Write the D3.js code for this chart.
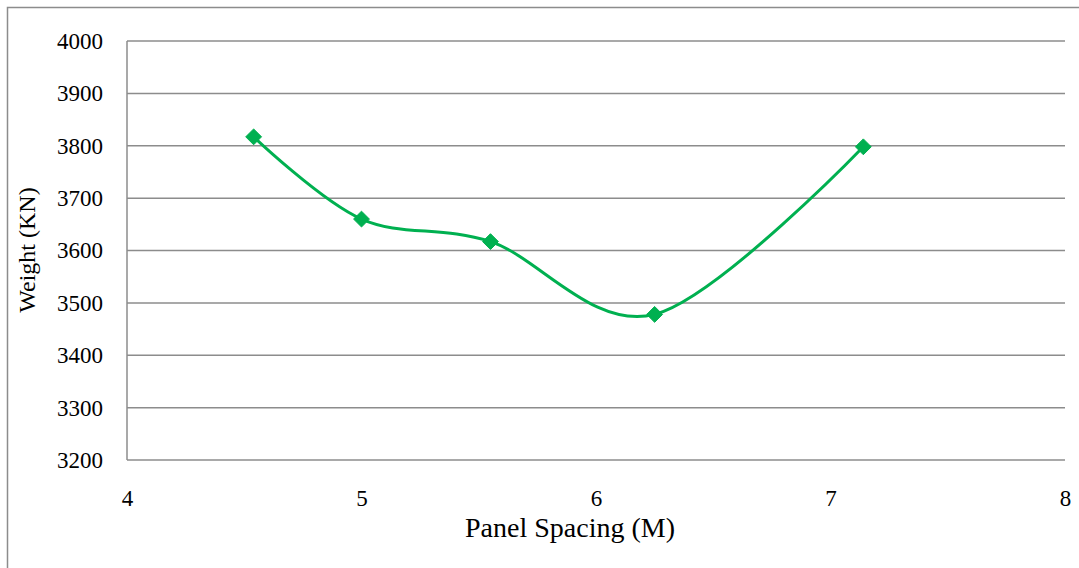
<!DOCTYPE html>
<html>
<head>
<meta charset="utf-8">
<script src="https://cdn.jsdelivr.net/npm/d3@7"></script>
<style>
  html, body { margin: 0; padding: 0; background: #fff; }
  svg { display: block; }
</style>
</head>
<body>
<script>
// Panel spacing vs. structure weight
const spacing = [4.54, 5.0, 5.55, 6.25, 7.14];
const weight  = [3817, 3660, 3617, 3478, 3798];
const xTicks  = [4, 5, 6, 7, 8];
const yTicks  = [3200, 3300, 3400, 3500, 3600, 3700, 3800, 3900, 4000];

const W = 1079, H = 568;
const margin = { left: 127, right: 14, top: 41, bottom: 108 };
const serif = "'Liberation Serif', 'Times New Roman', serif";

const svg = d3.select("body").append("svg")
  .attr("width", W).attr("height", H);

// outer chart frame
svg.append("rect")
  .attr("x", 7.5).attr("y", 7.5)
  .attr("width", W + 20).attr("height", H + 20)
  .attr("fill", "none").attr("stroke", "#8c8c8c").attr("stroke-width", 1.5);

const x = d3.scaleLinear().domain([4, 8]).range([margin.left, W - margin.right]);
const y = d3.scaleLinear().domain([3200, 4000]).range([H - margin.bottom, margin.top]);

// horizontal gridlines
svg.append("g")
  .selectAll("line").data(yTicks).join("line")
  .attr("x1", x(4)).attr("x2", x(8))
  .attr("y1", d => y(d)).attr("y2", d => y(d))
  .attr("stroke", "#8c8c8c").attr("stroke-width", 1.5);

// left axis line
svg.append("line")
  .attr("x1", x(4)).attr("x2", x(4))
  .attr("y1", y(4000)).attr("y2", y(3200))
  .attr("stroke", "#8c8c8c").attr("stroke-width", 1.5);

// y tick labels
const yAxis = d3.axisLeft(y).tickValues(yTicks).tickFormat(d3.format("d"))
  .tickSize(0).tickPadding(24);
const gy = svg.append("g").attr("transform", `translate(${x(4)},0)`).call(yAxis);
gy.select(".domain").remove();
gy.attr("font-family", serif).attr("font-size", 23);
gy.selectAll("text").attr("fill", "#000").style("font-family", serif);

// x tick labels
const xAxis = d3.axisBottom(x).tickValues(xTicks).tickFormat(d3.format("d"))
  .tickSize(0).tickPadding(0);
const gx = svg.append("g").attr("transform", `translate(0,${y(3200)})`).call(xAxis);
gx.select(".domain").remove();
gx.attr("font-family", serif).attr("font-size", 23);
gx.selectAll("text").attr("dy", null).attr("y", 46).attr("fill", "#000")
  .style("font-family", serif);

// axis titles
svg.append("text")
  .attr("x", 570).attr("y", 537)
  .attr("text-anchor", "middle")
  .attr("font-family", serif).attr("font-size", 28)
  .text("Panel Spacing (M)");

svg.append("text")
  .attr("transform", `translate(35,250) rotate(-90)`)
  .attr("text-anchor", "middle")
  .attr("font-family", serif).attr("font-size", 24)
  .text("Weight (KN)");

// smoothed series line
const pts = spacing.map((s, i) => [s, weight[i]]);
const line = d3.line()
  .x(d => x(d[0])).y(d => y(d[1]))
  .curve(d3.curveCardinal.tension(0));

const green = "#00B050";
svg.append("path")
  .datum(pts)
  .attr("d", line)
  .attr("fill", "none")
  .attr("stroke", green)
  .attr("stroke-width", 3);

// diamond markers
const sym = d3.symbol().type(d3.symbolDiamond2).size(160);
svg.append("g")
  .selectAll("path").data(pts).join("path")
  .attr("transform", d => `translate(${x(d[0])},${y(d[1])})`)
  .attr("d", sym)
  .attr("fill", green)
  .attr("stroke", green)
  .attr("stroke-width", 1);
</script>
</body>
</html>
